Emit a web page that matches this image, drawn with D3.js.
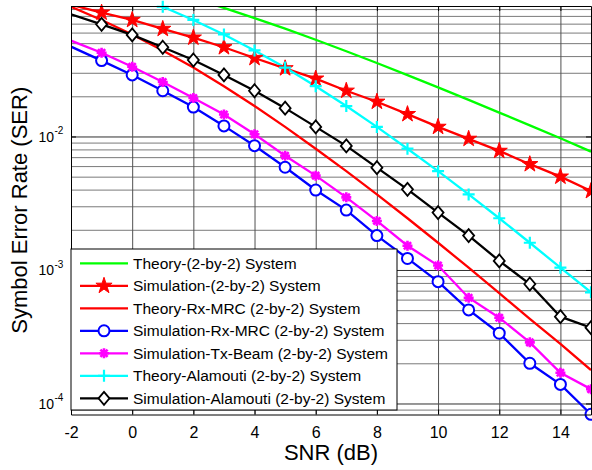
<!DOCTYPE html>
<html>
<head>
<meta charset="utf-8">
<script src="https://cdn.jsdelivr.net/npm/d3@7"></script>
<style>
    body { margin: 0; background: #fff; }
    text { font-family: Arial, "Liberation Sans", sans-serif; fill: #000; }
</style>
</head>
<body>
<svg id="drawing_region"></svg>
<script>
// SNR in dB
const snr = [-2, -1, 0, 1, 2, 3, 4, 5, 6, 7, 8, 9, 10, 11, 12, 13, 14, 15];

// SER values
const theorySiso = [0.189, 0.167, 0.146, 0.127, 0.108, 0.0919, 0.0771, 0.0642, 0.0530, 0.0435, 0.0355, 0.0288, 0.0233, 0.0188, 0.0151, 0.0121, 0.0097, 0.0077];
const simSiso = [0.097, 0.0846, 0.0746, 0.0639, 0.0550, 0.0466, 0.0387, 0.0324, 0.0271, 0.0220, 0.0182, 0.0147, 0.0118, 0.0096, 0.0078, 0.0062, 0.0050, 0.0039];
const theoryMrc = [0.0937, 0.0746, 0.0581, 0.0441, 0.0328, 0.0238, 0.0169, 0.0118, 0.0081, 0.0055, 0.00368, 0.00244, 0.00160, 0.00104, 0.00067, 0.00043, 0.00028, 0.000178];
const simMrc = [0.0471, 0.0370, 0.0289, 0.0220, 0.0166, 0.0120, 0.00853, 0.00588, 0.00397, 0.00281, 0.00181, 0.00122, 0.000818, 0.000502, 0.000336, 0.000200, 0.000139, 0.0000830];
const simBeam = [0.0522, 0.0424, 0.0333, 0.0256, 0.0194, 0.0146, 0.0104, 0.00718, 0.00509, 0.00350, 0.00233, 0.00152, 0.00108, 0.000620, 0.000439, 0.000287, 0.000170, 0.000128];
const theoryAlamouti = [0.165, 0.140, 0.116, 0.0937, 0.0746, 0.0581, 0.0441, 0.0328, 0.0238, 0.0169, 0.0118, 0.0081, 0.0055, 0.00368, 0.00244, 0.00160, 0.00104, 0.00068];
const simAlamouti = [0.0823, 0.0692, 0.0576, 0.0466, 0.0374, 0.0289, 0.0220, 0.0163, 0.0118, 0.0085, 0.00584, 0.00402, 0.00269, 0.00181, 0.00117, 0.000785, 0.000447, 0.000370];

const seriesNames = [
    'Theory-(2-by-2) System',
    'Simulation-(2-by-2) System',
    'Theory-Rx-MRC (2-by-2) System',
    'Simulation-Rx-MRC (2-by-2) System',
    'Simulation-Tx-Beam (2-by-2) System',
    'Theory-Alamouti (2-by-2) System',
    'Simulation-Alamouti (2-by-2) System'
];

const xTicks = [-2, 0, 2, 4, 6, 8, 10, 12, 14];
const yTicks = [1e-4, 1e-3, 1e-2];
const yTickExp = ['-4', '-3', '-2'];

const xDomain = [-2, 15];
const yDomain = [8.27e-5, 0.0949];

const series = [
    { name: seriesNames[0], values: theorySiso, color: '#00ff00', marker: null },
    { name: seriesNames[1], values: simSiso, color: '#ff0000', marker: 'star' },
    { name: seriesNames[2], values: theoryMrc, color: '#ff0000', marker: null },
    { name: seriesNames[3], values: simMrc, color: '#0000ff', marker: 'circle' },
    { name: seriesNames[4], values: simBeam, color: '#ff00ff', marker: 'asterisk' },
    { name: seriesNames[5], values: theoryAlamouti, color: '#00ffff', marker: 'plus' },
    { name: seriesNames[6], values: simAlamouti, color: '#000000', marker: 'diamond' }
];

function starPath(R) {
    const r = R * 0.382;
    let pts = [];
    for (let k = 0; k < 10; k++) {
        const a = -Math.PI / 2 + k * Math.PI / 5;
        const rad = k % 2 ? r : R;
        pts.push([rad * Math.cos(a), rad * Math.sin(a)]);
    }
    return 'M' + pts.join('L') + 'Z';
}

// draws one marker into g at (0,0)
function drawMarker(g, type, color) {
    if (type === 'star') {
        g.append('path').attr('d', starPath(8.5))
            .attr('fill', color).attr('stroke', color).attr('stroke-width', 1);
    } else if (type === 'circle') {
        g.append('circle').attr('r', 5.5)
            .attr('fill', '#fff').attr('stroke', color).attr('stroke-width', 2);
    } else if (type === 'asterisk') {
        const s = 5, t = 3.6;
        g.append('path').attr('d', `M${-s},0L${s},0M0,${-s}L0,${s}M${-t},${-t}L${t},${t}M${-t},${t}L${t},${-t}`)
            .attr('stroke', color).attr('stroke-width', 2.6).attr('fill', 'none');
    } else if (type === 'plus') {
        const s = 6;
        g.append('path').attr('d', `M${-s},0L${s},0M0,${-s}L0,${s}`)
            .attr('stroke', color).attr('stroke-width', 2.2).attr('fill', 'none');
    } else if (type === 'diamond') {
        g.append('path').attr('d', 'M0,-6.5L5.5,0L0,6.5L-5.5,0Z')
            .attr('fill', '#fff').attr('stroke', color).attr('stroke-width', 1.8);
    }
}

class SerChart {
    constructor(config) {
        this.config = config;
        this.init();
    }

    init() {
        let self = this;
        self.inner_width = self.config.width - self.config.margin.left - self.config.margin.right;
        self.inner_height = self.config.height - self.config.margin.top - self.config.margin.bottom;

        self.svg = d3.select(self.config.parent)
            .attr('width', self.config.width)
            .attr('height', self.config.height);

        self.chart = self.svg.append('g')
            .attr('transform', `translate(${self.config.margin.left}, ${self.config.margin.top})`);

        self.xscale = d3.scaleLinear().domain(xDomain).range([0, self.inner_width]);
        self.yscale = d3.scaleLog().domain(yDomain).range([self.inner_height, 0]);

        self.line = d3.line()
            .x((d, i) => self.xscale(snr[i]))
            .y(d => self.yscale(d));
    }

    render() {
        let self = this;
        const W = self.inner_width, H = self.inner_height;

        self.svg.append('defs').append('clipPath').attr('id', 'plot_clip')
            .append('rect').attr('width', W).attr('height', H);

        // minor grid (log decades)
        let minor = [];
        for (let e = -5; e <= -1; e++) {
            for (let m = 2; m <= 9; m++) {
                const v = m * Math.pow(10, e);
                if (v > yDomain[0] && v < yDomain[1]) minor.push(v);
            }
        }
        self.chart.append('g')
            .call(d3.axisLeft(self.yscale).tickValues(minor).tickSize(-W).tickFormat(''))
            .call(g => g.select('.domain').remove())
            .selectAll('line').attr('stroke', '#7a7a7a').attr('stroke-width', 1);

        self.chart.append('g')
            .call(d3.axisLeft(self.yscale).tickValues(yTicks).tickSize(-W).tickFormat(''))
            .call(g => g.select('.domain').remove())
            .selectAll('line').attr('stroke', '#303030').attr('stroke-width', 1);

        self.chart.append('g')
            .attr('transform', `translate(0, ${H})`)
            .call(d3.axisBottom(self.xscale).tickValues(xTicks).tickSize(H).tickFormat(''))
            .call(g => g.select('.domain').remove())
            .selectAll('line').attr('stroke', '#505050').attr('stroke-width', 1)
            .attr('y2', -H);

        // series lines
        const plot = self.chart.append('g').attr('clip-path', 'url(#plot_clip)');
        series.forEach(s => {
            plot.append('path')
                .attr('d', self.line(s.values))
                .attr('fill', 'none')
                .attr('stroke', s.color)
                .attr('stroke-width', 2.3);
        });

        // markers (points inside the axes only, left border excluded)
        series.filter(s => s.marker).forEach(s => {
            const pts = s.values.map((v, i) => ({ x: snr[i], y: v }))
                .filter(p => p.x > xDomain[0] && p.y >= yDomain[0] * 0.99 && p.y <= yDomain[1]);
            self.chart.append('g').selectAll('g')
                .data(pts)
                .enter()
                .append('g')
                .attr('transform', d => `translate(${self.xscale(d.x)}, ${self.yscale(d.y)})`)
                .each(function () { drawMarker(d3.select(this), s.marker, s.color); });
        });

        // axes box and inside ticks
        self.chart.append('g')
            .attr('transform', `translate(0, ${H})`)
            .call(d3.axisBottom(self.xscale).tickValues(xTicks).tickSizeInner(-5).tickSizeOuter(0).tickPadding(12))
            .call(g => g.selectAll('text').attr('font-size', '16px').attr('font-family', 'Arial, "Liberation Sans", sans-serif')
                .text(d => d < 0 ? '-' + Math.abs(d) : d));

        self.chart.append('g')
            .call(d3.axisTop(self.xscale).tickValues(xTicks).tickSizeInner(-5).tickSizeOuter(0).tickFormat(''));
        self.chart.append('g')
            .call(d3.axisLeft(self.yscale).tickValues(yTicks).tickSizeInner(-5).tickSizeOuter(0).tickFormat(''));
        self.chart.append('g')
            .attr('transform', `translate(${W}, 0)`)
            .call(d3.axisRight(self.yscale).tickValues(yTicks).tickSizeInner(-5).tickSizeOuter(0).tickFormat(''));
        self.chart.selectAll('.domain').attr('stroke', '#000');

        // y tick labels 10^n
        const ylab = self.chart.append('g');
        yTicks.forEach((t, i) => {
            const y = self.yscale(t);
            ylab.append('text')
                .attr('x', -17).attr('y', y + 5.5)
                .attr('text-anchor', 'end')
                .attr('font-size', '14px')
                .text('10');
            ylab.append('text')
                .attr('x', -16.5).attr('y', y - 2)
                .attr('font-size', '10px')
                .text(yTickExp[i]);
        });

        // legend
        const legend = self.chart.append('g').attr('transform', `translate(0, ${243})`);
        legend.append('rect')
            .attr('width', 326).attr('height', 161)
            .attr('fill', '#fff').attr('stroke', '#000').attr('stroke-width', 1);
        series.forEach((s, i) => {
            const row = legend.append('g').attr('transform', `translate(0, ${14.3 + i * 22.5})`);
            row.append('line')
                .attr('x1', 9).attr('x2', 57)
                .attr('stroke', s.color).attr('stroke-width', 2.3);
            if (s.marker) drawMarker(row.append('g').attr('transform', 'translate(33, 0)'), s.marker, s.color);
            row.append('text')
                .attr('x', 62).attr('y', 5.5)
                .attr('font-size', '15.5px')
                .text(s.name);
        });

        // axis titles
        self.chart.append('text')
            .attr('x', W / 2).attr('y', H + 45.5)
            .attr('text-anchor', 'middle')
            .attr('font-size', '22px')
            .text('SNR (dB)');

        self.chart.append('text')
            .attr('transform', `translate(${27 - self.config.margin.left}, ${H / 2}) rotate(-90)`)
            .attr('text-anchor', 'middle')
            .attr('font-size', '22px')
            .text('Symbol Error Rate (SER)');
    }
}

const config = {
    parent: '#drawing_region',
    width: 592,
    height: 470,
    margin: { top: 6, right: 1, bottom: 55.5, left: 71 }
};

let chart = new SerChart(config);
chart.render();
</script>
</body>
</html>
